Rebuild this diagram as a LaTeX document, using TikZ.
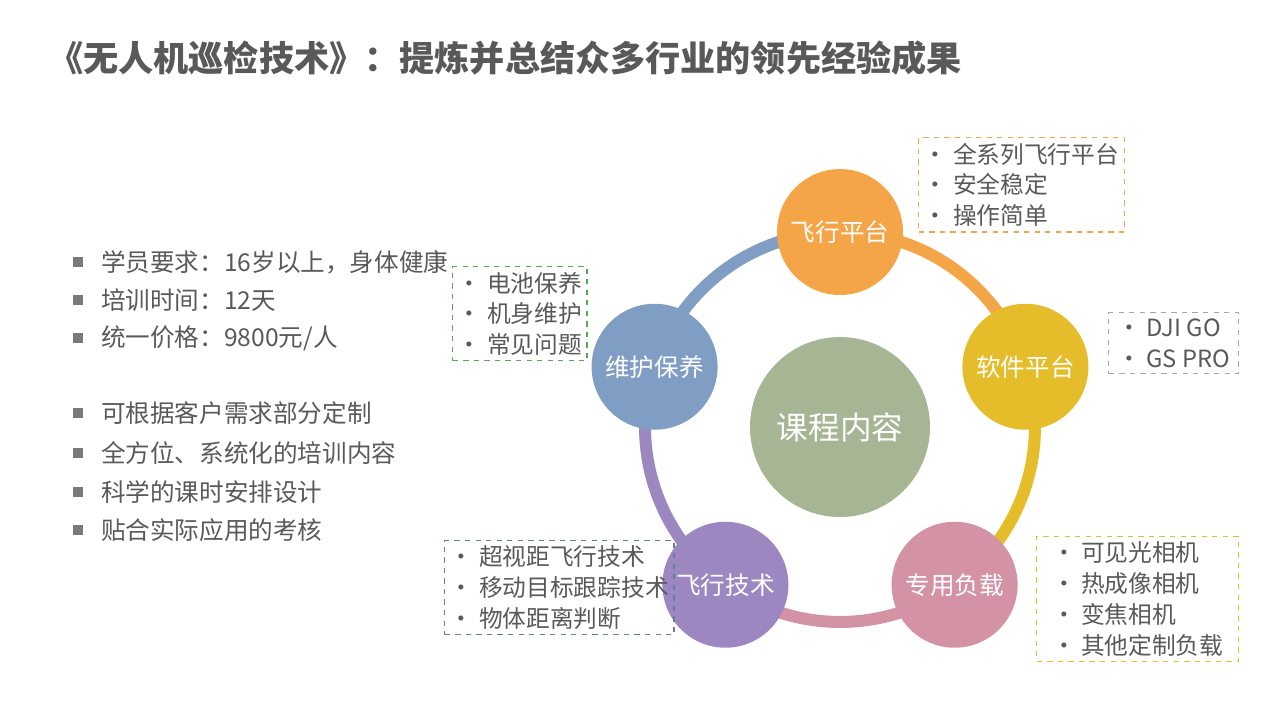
\documentclass[tikz,border=0pt]{standalone}
\usepackage{fontspec}
\setmainfont{Noto Sans CJK SC}
\usetikzlibrary{positioning}
\definecolor{txtgray}{HTML}{595959}
\definecolor{cfly}{HTML}{F4A548}
\definecolor{csoft}{HTML}{E5BC2A}
\definecolor{cload}{HTML}{D393A5}
\definecolor{ctech}{HTML}{9C87C1}
\definecolor{ckeep}{HTML}{809EC3}
\definecolor{ccore}{HTML}{A6B593}
\newcommand{\perperson}{9800元/人}
\tikzset{station/.style={circle,minimum size=2.52cm,inner sep=0pt,text=white,
                         font=\fontsize{14}{16}\selectfont}}
\tikzset{seg/.style={line width=0.24cm}}
\tikzset{notebox/.style={draw,dashed,thick,align=left,anchor=north west,
                         text=txtgray,inner sep=3pt,font=\fontsize{13.5}{17.5}\selectfont}}
\tikzset{listitem/.style={anchor=west,text=txtgray,font=\fontsize{14}{16}\selectfont}}
\begin{document}
\begin{tikzpicture}[x=0.02cm,y=-0.02cm]
    \useasboundingbox (0,0) rectangle (1288,724);
    \node[anchor=west,text=txtgray,font=\bfseries\fontsize{20}{24}\selectfont] (title) at (42,58)
        {《无人机巡检技术》：提炼并总结众多行业的领先经验成果};
    % left list
    \foreach \y/\t [count=\i] in {262/学员要求：16岁以上，身体健康,300/培训时间：12天,
        338/统一价格：\perperson,413/可根据客户需求部分定制,453/全方位、系统化的培训内容,
        492/科学的课时安排设计,530/贴合实际应用的考核}{%
          \fill[txtgray!80] (73,\y-5) rectangle (83,\y+5);
          \node[listitem] (l\i) at (95,\y) {\t};
        }
    % ring
    \begin{scope}[shift={(840,427)}]
       \draw[seg,cfly]  (90:3.9cm) arc[start angle=90,end angle=18,radius=3.9cm];
       \draw[seg,csoft] (18:3.9cm) arc[start angle=18,end angle=-54,radius=3.9cm];
       \draw[seg,cload] (-54:3.9cm) arc[start angle=-54,end angle=-126,radius=3.9cm];
       \draw[seg,ctech] (-126:3.9cm) arc[start angle=-126,end angle=-198,radius=3.9cm];
       \draw[seg,ckeep] (162:3.9cm) arc[start angle=162,end angle=90,radius=3.9cm];
       \node[station,fill=ccore,minimum size=3.6cm,font=\fontsize{18}{20}\selectfont] (core) at (0,0) {课程内容};
       \node[station,fill=cfly]  (fly)  at (90:3.9cm)  {飞行平台};
       \node[station,fill=csoft] (soft) at (18:3.9cm)  {软件平台};
       \node[station,fill=cload] (load) at (-54:3.9cm) {专用负载};
       \node[station,fill=ctech] (tech) at (-126:3.9cm) {飞行技术};
       \node[station,fill=ckeep] (keep) at (162:3.9cm) {维护保养};
    \end{scope}
    % Labels
    \node[notebox,draw=cfly,minimum width=4.02cm,minimum height=1.76cm] (nfly) at (918,137)
        {•\ 全系列飞行平台\\•\ 安全稳定\\•\ 操作简单};
    \node[notebox,draw=gray!70,minimum width=2.6cm,minimum height=1.22cm] (nsoft) at (1108,312)
        {•\ DJI GO\\•\ GS PRO};
    \node[notebox,draw=green!55!black!70,minimum width=2.52cm,minimum height=1.76cm] (nkeep) at (452,266)
        {•\ 电池保养\\•\ 机身维护\\•\ 常见问题};
    \node[notebox,draw=ckeep!80!black,minimum width=4.18cm,minimum height=1.74cm] (ntech) at (444,540)
        {•\ 超视距飞行技术\\•\ 移动目标跟踪技术\\•\ 物体距离判断};
    \node[notebox,draw=csoft,minimum width=4.04cm,minimum height=2.28cm] (nload) at (1036,536)
        {•\ 可见光相机\\•\ 热成像相机\\•\ 变焦相机\\•\ 其他定制负载};
\end{tikzpicture}
\end{document}
